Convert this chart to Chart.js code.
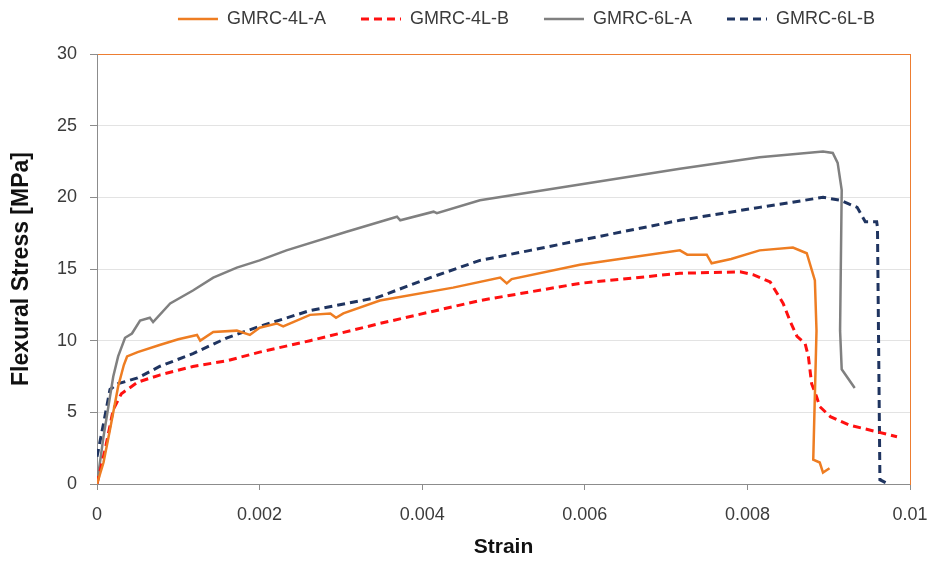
<!DOCTYPE html>
<html>
<head>
<meta charset="utf-8">
<script src="https://cdn.jsdelivr.net/npm/chart.js@4.4.1/dist/chart.umd.min.js"></script>
<style>
  html, body { margin: 0; padding: 0; background: #ffffff; }
  #wrap { width: 930px; height: 562px; }
</style>
</head>
<body>
<div id="wrap"><canvas id="c" width="930" height="562"></canvas></div>
<script>
// ---- data ----
const seriesNames = ['GMRC-4L-A', 'GMRC-4L-B', 'GMRC-6L-A', 'GMRC-6L-B'];
const xTickLabels = ['0', '0.002', '0.004', '0.006', '0.008', '0.01'];
const yTickLabels = ['0', '5', '10', '15', '20', '25', '30'];

const strain4LA = [0, 0.00008, 0.00016, 0.00026, 0.00033, 0.00037, 0.0005, 0.00077, 0.001, 0.00123, 0.00127, 0.00143, 0.00172, 0.00188, 0.002, 0.00221, 0.00229, 0.00262, 0.00287, 0.00294, 0.00303, 0.00348, 0.00438, 0.00496, 0.00504, 0.0051, 0.00594, 0.00717, 0.00726, 0.0075, 0.00756, 0.0078, 0.00815, 0.00856, 0.00873, 0.00883, 0.00885, 0.00881, 0.00889, 0.00893, 0.00901];
const stress4LA = [0, 1.5, 3.8, 6.8, 8.3, 8.9, 9.2, 9.7, 10.1, 10.4, 10.0, 10.6, 10.7, 10.4, 10.9, 11.2, 11.0, 11.8, 11.9, 11.6, 11.9, 12.8, 13.7, 14.4, 14.0, 14.3, 15.3, 16.3, 16.0, 16.0, 15.4, 15.7, 16.3, 16.5, 16.1, 14.2, 10.7, 1.7, 1.5, 0.8, 1.1];

const strain4LB = [0, 0.0001, 0.0002, 0.0003, 0.0005, 0.00077, 0.00118, 0.0016, 0.002, 0.00262, 0.00348, 0.00471, 0.00594, 0.00717, 0.00791, 0.00807, 0.00828, 0.00844, 0.00853, 0.00861, 0.00871, 0.00875, 0.00879, 0.00885, 0.00889, 0.00902, 0.00926, 0.00959, 0.00984];
const stress4LB = [0, 2.4, 5.2, 6.3, 7.1, 7.6, 8.2, 8.6, 9.2, 10.0, 11.2, 12.8, 14.0, 14.7, 14.8, 14.6, 14.1, 12.6, 11.3, 10.3, 9.8, 8.9, 7.0, 6.1, 5.4, 4.7, 4.1, 3.65, 3.3];

const strain6LA = [0, 0.00008, 0.00014, 0.0002, 0.00026, 0.000345, 0.00043, 0.00053, 0.00065, 0.00069, 0.0009, 0.00118, 0.00143, 0.00172, 0.002, 0.00233, 0.00307, 0.00369, 0.00373, 0.00414, 0.00418, 0.00471, 0.00594, 0.00717, 0.00815, 0.00893, 0.00905, 0.00911, 0.00916, 0.00914, 0.00916, 0.00932];
const stress6LA = [0, 3.3, 5.4, 7.5, 8.9, 10.2, 10.5, 11.4, 11.6, 11.3, 12.6, 13.5, 14.4, 15.1, 15.6, 16.3, 17.6, 18.65, 18.4, 19.0, 18.9, 19.8, 20.9, 22.0, 22.8, 23.2, 23.1, 22.4, 20.5, 10.7, 8.0, 6.7];

const strain6LB = [0, 0.00008, 0.00016, 0.00026, 0.0005, 0.00077, 0.00118, 0.0016, 0.002, 0.00262, 0.00344, 0.0041, 0.00471, 0.00533, 0.00594, 0.00717, 0.00815, 0.00893, 0.00914, 0.00935, 0.00945, 0.00959, 0.0096, 0.00963, 0.0097];
const stress6LB = [1.9, 4.2, 6.6, 7.0, 7.4, 8.2, 9.1, 10.2, 11.0, 12.1, 13.0, 14.4, 15.6, 16.3, 17.0, 18.4, 19.3, 20.0, 19.8, 19.3, 18.3, 18.3, 17.9, 0.3, 0.1];

function pts(xs, ys) { return xs.map((x, i) => ({ x: x, y: ys[i] })); }

const FONT = "'Liberation Sans', Arial, sans-serif";
const TEXT = '#3b3b3b';
const FRAME = '#ED7D31';

new Chart(document.getElementById('c'), {
  type: 'line',
  data: {
    datasets: [
      { label: seriesNames[0], data: pts(strain4LA, stress4LA), borderColor: '#EE7D22', backgroundColor: '#EE7D22', borderWidth: 2.5 },
      { label: seriesNames[1], data: pts(strain4LB, stress4LB), borderColor: '#FF1010', backgroundColor: '#FF1010', borderWidth: 3, borderDash: [8, 5] },
      { label: seriesNames[2], data: pts(strain6LA, stress6LA), borderColor: '#808080', backgroundColor: '#808080', borderWidth: 2.5 },
      { label: seriesNames[3], data: pts(strain6LB, stress6LB), borderColor: '#1F3460', backgroundColor: '#1F3460', borderWidth: 3, borderDash: [8, 5] }
    ]
  },
  options: {
    responsive: false,
    animation: false,
    elements: { point: { radius: 0, hoverRadius: 0 }, line: { tension: 0, borderCapStyle: 'butt' } },
    layout: { padding: { top: -25, right: 20, bottom: 0, left: 0 } },
    plugins: {
      tooltip: { enabled: false },
      legend: {
        position: 'top',
        align: 'end',
        labels: {
          usePointStyle: true,
          pointStyle: 'line',
          pointStyleWidth: 40,
          padding: 35,
          color: TEXT,
          font: { family: FONT, size: 18 },
          generateLabels(chart) {
            return chart.data.datasets.map((ds, i) => ({
              text: ds.label,
              datasetIndex: i,
              fillStyle: ds.borderColor,
              strokeStyle: ds.borderColor,
              lineWidth: ds.borderWidth,
              lineDash: ds.borderDash || [],
              lineCap: 'butt',
              pointStyle: 'line',
              fontColor: TEXT,
              hidden: false
            }));
          }
        }
      }
    },
    scales: {
      x: {
        type: 'linear',
        min: 0, max: 0.01,
        afterFit(s) { s.height = 78; s.paddingRight = 0; s.paddingLeft = 0; },
        ticks: {
          stepSize: 0.002,
          padding: 14,
          color: TEXT,
          font: { family: FONT, size: 18 },
          maxRotation: 0,
          callback: (v, i) => xTickLabels[i]
        },
        grid: { drawOnChartArea: false, drawTicks: true, tickLength: 6, tickColor: '#8c8c8c' },
        border: { color: '#8c8c8c', width: 1 },
        title: { display: true, text: 'Strain', color: '#111', font: { family: FONT, size: 21, weight: 'bold' }, padding: { top: 0, bottom: 2 } }
      },
      xTop: {
        type: 'linear',
        position: 'top',
        display: true,
        min: 0, max: 0.01,
        afterFit(s) { s.height = 16; s.paddingRight = 0; s.paddingLeft = 0; },
        ticks: { display: false },
        grid: { display: false },
        border: { display: true, color: FRAME, width: 1 }
      },
      y: {
        min: 0, max: 30,
        afterFit(s) { s.width = 97; },
        ticks: {
          stepSize: 5,
          padding: 13,
          color: TEXT,
          font: { family: FONT, size: 18 },
          callback: (v, i) => yTickLabels[i]
        },
        grid: { color: '#e3e3e3', tickLength: 7, tickColor: '#8c8c8c' },
        border: { color: '#8c8c8c', width: 1 },
        title: { display: true, text: 'Flexural Stress [MPa]', color: '#111', font: { family: FONT, size: 23, weight: 'bold' }, padding: { top: 8, bottom: 0 } }
      },
      yRight: {
        position: 'right',
        display: true,
        min: 0, max: 30,
        afterFit(s) { s.width = 0; },
        ticks: { display: false },
        grid: { display: false },
        border: { display: true, color: FRAME, width: 1 }
      }
    }
  }
});
</script>
</body>
</html>
